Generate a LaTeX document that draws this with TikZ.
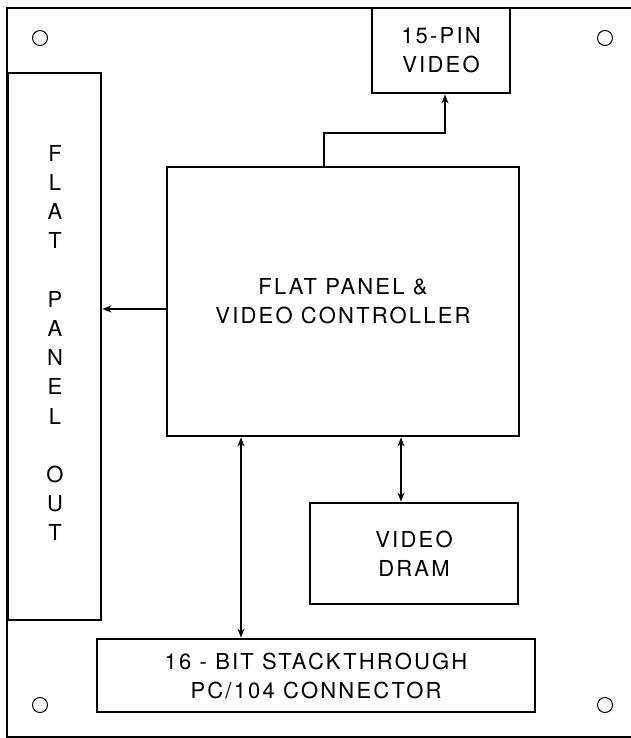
\documentclass[tikz,border=0pt]{standalone}
\usepackage{fontspec}
\setmainfont{TeX Gyre Heros}[LetterSpace=10]
\usetikzlibrary{arrows.meta}
\begin{document}
\begin{tikzpicture}[x=1pt,y=-1pt,
  blk/.style={draw,line width=2.8pt,inner sep=0pt,align=center,
    font=\fontsize{22}{29}\selectfont},
  hole/.style={draw,circle,line width=1pt,minimum size=15pt,inner sep=0pt},
  sarrow/.style={line width=1.4pt,-{Stealth[length=9pt,width=7pt]}},
  darrow/.style={line width=1.4pt,{Stealth[length=9pt,width=7pt]}-{Stealth[length=9pt,width=7pt]}}]
\useasboundingbox (0,0) rectangle (631,738);
\draw[line width=2pt] (7,8) rectangle (660,737);
\node[blk,minimum width=138pt,minimum height=85pt] (pin) at (441,50.5) {15-PIN\\VIDEO};
\node[blk,minimum width=93pt,minimum height=547pt] (fp) at (54.5,346.5) {};
\node[align=center,font=\fontsize{22}{29.2}\selectfont] (fpt) at (55,343)
  {F\\L\\A\\T\\[29.2pt]P\\A\\N\\E\\L\\[29.2pt]O\\U\\T};
\node[blk,minimum width=352pt,minimum height=269pt] (ctrl) at (343,301.5) {FLAT PANEL \&\\VIDEO CONTROLLER};
\node[blk,minimum width=208pt,minimum height=101pt] (dram) at (414,553.5) {VIDEO\\DRAM};
\node[blk,minimum width=438pt,minimum height=73pt] (conn) at (316,675.5) {16 - BIT STACKTHROUGH\\PC/104 CONNECTOR};
\node[hole] (h1) at (40,38) {};
\node[hole] (h2) at (605,38) {};
\node[hole] (h3) at (40,705) {};
\node[hole] (h4) at (605,705) {};
\coordinate (bend) at (445,133);
\draw[sarrow] (ctrl.north -| 324,0) |- (bend) -- (bend |- pin.south);
\draw[sarrow] (ctrl.west |- 0,309) -- (fp.east |- 0,309);
\draw[darrow] (ctrl.south -| 241,0) -- (conn.north -| 241,0);
\draw[darrow] (ctrl.south -| 401,0) -- (dram.north -| 401,0);
\end{tikzpicture}
\end{document}
